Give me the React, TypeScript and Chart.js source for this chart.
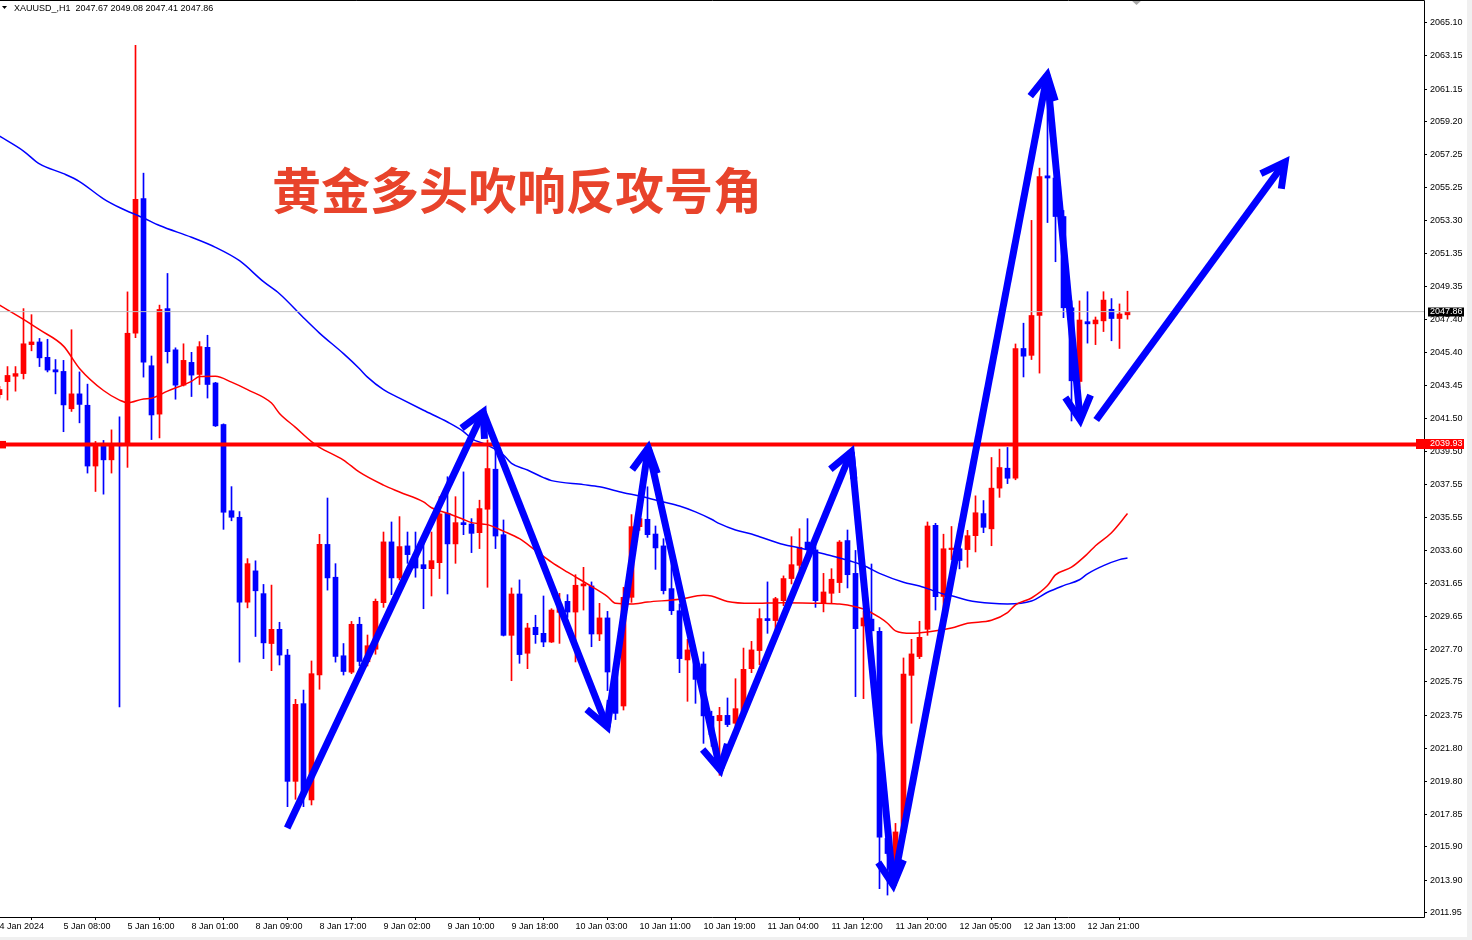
import React, { useEffect, useRef } from "react";
import { Chart, registerables } from "chart.js";

Chart.register(...registerables);

// ---------- header / annotation text ----------
const headerText = "XAUUSD_,H1  2047.67 2049.08 2047.41 2047.86";
const titleText = "黄金多头吹响反攻号角";

// ---------- H1 candles (bar index 0..141) ----------
const opens = [
  2042.90, 2043.68, 2044.00, 2044.16, 2045.89, 2046.05, 2045.13, 2044.39, 2044.29, 2042.06,
  2042.95, 2042.27, 2038.64, 2039.93, 2039.01, 2040.00, 2039.93, 2046.57, 2054.61, 2044.63,
  2041.74, 2048.04, 2045.58, 2043.47, 2044.83, 2044.11, 2045.73, 2043.60, 2041.12, 2035.97,
  2035.58, 2030.51, 2032.38, 2031.02, 2028.04, 2028.89, 2027.35, 2019.81, 2024.45, 2018.70,
  2026.16, 2033.96, 2032.00, 2027.31, 2026.33, 2029.19, 2026.95, 2027.70, 2030.48, 2034.11,
  2031.96, 2033.87, 2033.23, 2032.75, 2032.51, 2032.87, 2035.82, 2033.99, 2035.26, 2035.18,
  2034.66, 2036.06, 2038.45, 2034.54, 2028.53, 2031.00, 2027.46, 2029.01, 2028.65, 2028.13,
  2029.90, 2030.56, 2029.92, 2031.48, 2031.48, 2028.61, 2029.57, 2026.34, 2024.31, 2030.80,
  2035.02, 2035.46, 2034.58, 2033.87, 2031.32, 2030.00, 2027.06, 2027.00, 2026.82, 2023.70,
  2023.43, 2023.75, 2023.28, 2023.95, 2026.54, 2027.62, 2029.53, 2029.41, 2030.60, 2031.92,
  2032.71, 2034.10, 2033.63, 2030.44, 2031.04, 2031.68, 2034.19, 2032.23, 2029.09, 2029.50,
  2028.77, 2016.40, 2014.91, 2016.75, 2026.14, 2027.26, 2028.89, 2035.10, 2030.85, 2033.65,
  2033.70, 2033.65, 2034.48, 2035.80, 2034.89, 2037.32, 2038.51, 2037.91, 2045.66, 2045.25,
  2047.63, 2055.97, 2055.84, 2053.54, 2048.09, 2043.69, 2047.26, 2047.13, 2047.31, 2048.00,
  2047.45, 2047.67,
];
const highs = [
  2043.40, 2044.58, 2044.58, 2048.04, 2047.68, 2046.26, 2046.21, 2045.00, 2044.95, 2046.78,
  2044.26, 2043.53, 2040.11, 2040.17, 2040.80, 2041.58, 2049.04, 2063.77, 2056.13, 2045.21,
  2048.25, 2050.14, 2045.70, 2045.94, 2045.43, 2046.07, 2046.45, 2043.64, 2041.16, 2037.41,
  2035.92, 2033.11, 2032.98, 2031.57, 2031.53, 2029.31, 2027.69, 2024.71, 2025.26, 2027.00,
  2034.56, 2036.73, 2032.81, 2028.04, 2029.36, 2029.61, 2028.55, 2030.70, 2034.70, 2035.30,
  2035.62, 2034.70, 2034.70, 2034.23, 2034.70, 2036.81, 2038.00, 2036.81, 2038.29, 2035.50,
  2036.60, 2040.20, 2039.60, 2035.42, 2031.36, 2031.84, 2029.25, 2029.73, 2030.88, 2030.12,
  2031.04, 2030.96, 2032.15, 2032.59, 2031.72, 2030.44, 2029.96, 2026.50, 2031.40, 2035.74,
  2036.90, 2037.40, 2035.06, 2034.30, 2033.23, 2030.40, 2028.29, 2027.30, 2027.54, 2024.00,
  2024.23, 2024.79, 2025.94, 2027.77, 2028.17, 2030.12, 2031.72, 2030.80, 2032.08, 2034.42,
  2034.90, 2035.50, 2034.00, 2032.23, 2032.51, 2034.19, 2034.82, 2033.60, 2030.00, 2032.79,
  2029.00, 2016.80, 2017.30, 2027.18, 2028.29, 2029.37, 2035.30, 2035.22, 2034.57, 2035.03,
  2035.20, 2034.80, 2036.86, 2036.58, 2039.15, 2039.65, 2039.75, 2045.93, 2047.17, 2053.31,
  2056.43, 2061.50, 2056.11, 2053.90, 2048.50, 2048.50, 2049.05, 2047.54, 2049.05, 2048.64,
  2048.32, 2049.08,
];
const lows = [
  2042.70, 2042.58, 2043.11, 2043.84, 2045.52, 2044.58, 2044.26, 2042.95, 2040.69, 2041.90,
  2041.22, 2038.22, 2037.12, 2036.96, 2038.22, 2024.25, 2038.56, 2046.30, 2043.95, 2040.22,
  2040.32, 2044.79, 2042.63, 2043.42, 2042.79, 2043.51, 2042.70, 2041.00, 2034.86, 2035.37,
  2026.93, 2030.17, 2028.46, 2027.14, 2026.42, 2026.76, 2018.30, 2018.74, 2018.30, 2018.40,
  2025.31, 2031.23, 2026.93, 2026.16, 2026.24, 2026.71, 2026.70, 2027.40, 2030.20, 2030.96,
  2031.84, 2032.83, 2032.00, 2030.12, 2030.88, 2031.92, 2031.00, 2032.83, 2034.54, 2033.47,
  2033.71, 2031.40, 2033.71, 2028.49, 2025.82, 2026.86, 2026.54, 2028.05, 2027.85, 2028.10,
  2028.05, 2029.60, 2026.94, 2030.04, 2027.85, 2028.21, 2025.23, 2023.50, 2024.07, 2030.50,
  2034.80, 2034.38, 2032.47, 2031.00, 2029.77, 2026.30, 2024.59, 2024.47, 2022.08, 2021.90,
  2020.17, 2023.08, 2022.90, 2023.70, 2026.30, 2026.78, 2028.65, 2028.65, 2030.30, 2031.60,
  2032.40, 2033.20, 2030.20, 2029.93, 2030.44, 2031.08, 2031.36, 2024.87, 2024.75, 2027.50,
  2013.40, 2013.02, 2014.80, 2016.70, 2023.28, 2027.14, 2028.53, 2030.04, 2029.85, 2033.05,
  2032.50, 2032.60, 2033.51, 2034.66, 2033.88, 2036.77, 2037.59, 2037.82, 2043.96, 2045.00,
  2044.19, 2053.18, 2050.84, 2047.50, 2041.33, 2043.30, 2045.98, 2045.89, 2046.67, 2046.12,
  2045.66, 2047.41,
];
const closes = [
  2043.21, 2044.05, 2044.16, 2045.94, 2046.05, 2045.10, 2044.37, 2044.26, 2042.29, 2042.95,
  2042.32, 2038.64, 2039.93, 2039.01, 2039.93, 2039.85, 2046.57, 2054.56, 2044.84, 2041.69,
  2047.99, 2045.47, 2043.47, 2044.95, 2044.07, 2045.77, 2043.51, 2041.04, 2035.88, 2035.58,
  2030.51, 2032.81, 2031.19, 2028.08, 2028.89, 2027.35, 2019.81, 2024.41, 2019.20, 2026.24,
  2033.96, 2031.96, 2027.27, 2026.37, 2029.19, 2026.97, 2027.91, 2030.56, 2034.11, 2031.96,
  2033.83, 2033.35, 2032.55, 2032.51, 2032.99, 2035.78, 2033.99, 2035.26, 2035.14, 2034.62,
  2036.10, 2038.49, 2034.46, 2028.53, 2031.00, 2027.38, 2028.97, 2028.57, 2028.13, 2030.04,
  2030.40, 2029.92, 2031.52, 2031.60, 2028.61, 2029.57, 2026.34, 2023.87, 2030.80, 2035.02,
  2035.50, 2034.54, 2033.75, 2031.20, 2030.00, 2027.14, 2027.66, 2025.90, 2023.72, 2022.60,
  2023.75, 2023.20, 2024.15, 2026.50, 2027.66, 2029.53, 2029.41, 2030.72, 2031.92, 2032.75,
  2033.79, 2033.70, 2030.60, 2031.12, 2031.88, 2034.10, 2032.15, 2028.93, 2029.57, 2028.80,
  2016.47, 2015.50, 2016.79, 2026.22, 2027.42, 2028.41, 2035.06, 2030.84, 2033.70, 2033.74,
  2033.00, 2034.48, 2035.85, 2034.98, 2037.32, 2038.55, 2037.91, 2045.66, 2045.20, 2047.63,
  2055.93, 2055.84, 2053.54, 2048.09, 2043.73, 2047.36, 2047.13, 2047.36, 2048.55, 2047.45,
  2047.72, 2047.86,
];

const fastMaIdx = [
  0, 3, 5, 8, 10, 13, 15, 16, 18, 19, 21, 24, 25, 27, 29, 31, 34, 35, 37, 39,
  40, 43, 45, 48, 50, 53, 54, 56, 58, 59, 61, 63, 65, 67, 69, 71, 74, 76, 77, 79,
  81, 85, 88, 89, 91, 94, 98, 103, 105, 107, 108, 110, 111, 112, 114, 116, 119, 121, 124, 126,
  127, 129, 131, 132, 134, 136, 137, 139, 141,
];
const fastMaVal = [
  2048.25, 2047.40, 2046.78, 2045.80, 2044.47, 2043.15, 2042.58, 2042.42, 2042.65, 2042.69,
  2043.11, 2043.70, 2043.98, 2044.00, 2043.65, 2043.20, 2042.40, 2041.78, 2040.95, 2040.10,
  2039.76, 2039.00, 2038.27, 2037.50, 2037.09, 2036.50, 2036.15, 2035.82, 2035.45, 2035.26,
  2035.14, 2034.75, 2034.30, 2033.60, 2032.90, 2032.30, 2031.45, 2030.84, 2030.44, 2030.40,
  2030.52, 2030.68, 2030.92, 2030.88, 2030.55, 2030.44, 2030.48, 2030.44, 2030.40, 2030.24,
  2030.10, 2029.60, 2029.25, 2028.80, 2028.65, 2028.73, 2028.97, 2029.25, 2029.43, 2029.89,
  2030.35, 2030.76, 2031.50, 2032.14, 2032.60, 2033.40, 2033.88, 2034.66, 2035.80,
];
const slowMaIdx = [
  0, 3, 5, 8, 10, 13, 15, 18, 20, 24, 27, 30, 33, 35, 38, 40, 43, 45, 46, 48,
  50, 53, 56, 58, 59, 61, 63, 64, 66, 68, 69, 73, 75, 78, 80, 83, 85, 87, 89, 90,
  92, 94, 95, 98, 100, 103, 105, 108, 110, 113, 115, 118, 119, 121, 124, 126, 129, 131, 133, 135,
  136, 138, 140, 141,
];
const slowMaVal = [
  2058.34, 2057.45, 2056.68, 2056.10, 2055.63, 2054.60, 2054.08, 2053.45, 2053.00, 2052.30,
  2051.70, 2050.90, 2049.65, 2048.93, 2047.50, 2046.58, 2045.35, 2044.45, 2043.95, 2043.20,
  2042.70, 2041.97, 2041.27, 2040.70, 2040.28, 2039.88, 2039.30, 2038.80, 2038.40, 2037.95,
  2037.77, 2037.53, 2037.40, 2037.05, 2036.85, 2036.49, 2036.25, 2035.90, 2035.46, 2035.20,
  2034.82, 2034.58, 2034.42, 2033.95, 2033.75, 2033.40, 2033.15, 2032.70, 2032.23, 2031.70,
  2031.48, 2031.00, 2030.90, 2030.63, 2030.44, 2030.40, 2030.58, 2031.10, 2031.50, 2031.85,
  2032.20, 2032.69, 2033.05, 2033.15,
];

// ---------- horizontal levels ----------
const supportLevel = 2039.93;
const bidLevel = 2047.86;

// ---------- hand-drawn arrows (bar index, price) ----------
const arrowFromIdx = [35.96, 60.46, 75.96, 81.09, 90.09, 106.46, 111.71, 130.96, 137.09];
const arrowFromPrice = [2017.03, 2041.87, 2023.06, 2039.72, 2020.49, 2039.48, 2013.62, 2061.99, 2041.39];
const arrowToIdx = [60.46, 75.96, 81.09, 90.09, 106.46, 111.71, 130.96, 135.09, 160.71];
const arrowToPrice = [2041.87, 2023.06, 2039.72, 2020.49, 2039.48, 2013.62, 2061.99, 2041.39, 2056.80];

// ---------- axes ----------
const xTickIdx = [0, 8, 16, 24, 32, 40, 48, 56, 64, 72, 80, 88, 96, 104, 112, 120, 128, 136];
const xTickLabels = [
  "4 Jan 2024", "5 Jan 08:00", "5 Jan 16:00", "8 Jan 01:00", "8 Jan 09:00", "8 Jan 17:00",
  "9 Jan 02:00", "9 Jan 10:00", "9 Jan 18:00", "10 Jan 03:00", "10 Jan 11:00", "10 Jan 19:00",
  "11 Jan 04:00", "11 Jan 12:00", "11 Jan 20:00", "12 Jan 05:00", "12 Jan 13:00", "12 Jan 21:00",
];
const yTickValues = [
  2065.10, 2063.15, 2061.15, 2059.20, 2057.25, 2055.25, 2053.30, 2051.35, 2049.35, 2047.40,
  2045.40, 2043.45, 2041.50, 2039.50, 2037.55, 2035.55, 2033.60, 2031.65, 2029.65, 2027.70,
  2025.75, 2023.75, 2021.80, 2019.80, 2017.85, 2015.90, 2013.90, 2011.95,
];

const X_MIN = 0.0625;
const X_MAX = 178.0625;
const Y_MIN = 2011.71;
const Y_MAX = 2066.47;

const UP = "#ff0000";
const DOWN = "#0000ff";
const ARROW = "#0000ff";
const AXIS_FONT = { family: "'Liberation Sans', Arial, sans-serif", size: 9 };

const decorPlugin = {
  id: "mtDecor",
  beforeDraw(chart: any) {
    const { ctx, width, height } = chart;
    ctx.save();
    ctx.fillStyle = "#ffffff";
    ctx.fillRect(0, 0, width, height);
    ctx.fillStyle = "#f0f0f0";
    ctx.fillRect(width - 5, 0, 5, height);
    ctx.fillRect(0, height - 3, width, 3);
    ctx.restore();
  },
  afterDatasetsDraw(chart: any) {
    const { ctx, chartArea } = chart;
    const xs = chart.scales.x;
    const ys = chart.scales.y;
    ctx.save();
    // arrow heads
    ctx.strokeStyle = ARROW;
    ctx.lineWidth = 7;
    ctx.lineJoin = "miter";
    ctx.lineCap = "butt";
    for (let k = 0; k < arrowToIdx.length; k++) {
      const x0 = xs.getPixelForValue(arrowFromIdx[k]);
      const y0 = ys.getPixelForValue(arrowFromPrice[k]);
      const x1 = xs.getPixelForValue(arrowToIdx[k]);
      const y1 = ys.getPixelForValue(arrowToPrice[k]);
      const len = Math.hypot(x1 - x0, y1 - y0);
      const ux = (x0 - x1) / len;
      const uy = (y0 - y1) / len;
      const a = (28 * Math.PI) / 180;
      const L = 27;
      const r1x = ux * Math.cos(a) - uy * Math.sin(a);
      const r1y = ux * Math.sin(a) + uy * Math.cos(a);
      const r2x = ux * Math.cos(-a) - uy * Math.sin(-a);
      const r2y = ux * Math.sin(-a) + uy * Math.cos(-a);
      ctx.beginPath();
      ctx.moveTo(x1 + r1x * L, y1 + r1y * L);
      ctx.lineTo(x1, y1);
      ctx.lineTo(x1 + r2x * L, y1 + r2y * L);
      ctx.stroke();
    }
    // left anchor square of the support line
    const sy = ys.getPixelForValue(supportLevel);
    ctx.fillStyle = "#ff0000";
    ctx.fillRect(0, sy - 3.5, 6, 7.5);
    // title
    ctx.fillStyle = "#e8432b";
    ctx.font = "bold 49px 'Noto Sans CJK SC', sans-serif";
    ctx.textBaseline = "middle";
    ctx.textAlign = "left";
    ctx.fillText(titleText, 272, 190);
    // header
    ctx.fillStyle = "#000000";
    ctx.beginPath();
    ctx.moveTo(2, 6);
    ctx.lineTo(7, 6);
    ctx.lineTo(4.5, 9);
    ctx.closePath();
    ctx.fill();
    ctx.font = "9px 'Liberation Sans', Arial, sans-serif";
    ctx.textBaseline = "middle";
    ctx.fillText(headerText, 14, 8.5);
    // chart shift marker
    ctx.fillStyle = "#a8a8a8";
    ctx.beginPath();
    ctx.moveTo(1131, 0);
    ctx.lineTo(1142, 0);
    ctx.lineTo(1136.5, 5);
    ctx.closePath();
    ctx.fill();
    // frame
    ctx.strokeStyle = "#000000";
    ctx.lineWidth = 1;
    ctx.beginPath();
    ctx.moveTo(0, 0.5);
    ctx.lineTo(chartArea.right + 0.5, 0.5);
    ctx.lineTo(chartArea.right + 0.5, chartArea.bottom + 0.5);
    ctx.lineTo(0, chartArea.bottom + 0.5);
    ctx.stroke();
    ctx.restore();
  },
  afterDraw(chart: any) {
    const { ctx } = chart;
    const ys = chart.scales.y;
    ctx.save();
    ctx.font = "9px 'Liberation Sans', Arial, sans-serif";
    ctx.textBaseline = "middle";
    ctx.textAlign = "left";
    const by = Math.round(ys.getPixelForValue(bidLevel));
    ctx.fillStyle = "#000000";
    ctx.fillRect(1428, by - 4.5, 36, 9);
    ctx.fillStyle = "#ffffff";
    ctx.fillText(bidLevel.toFixed(2), 1430, by);
    const sy = Math.round(ys.getPixelForValue(supportLevel));
    ctx.fillStyle = "#ff0000";
    ctx.fillRect(1416, sy - 5, 48, 10);
    ctx.fillStyle = "#ffffff";
    ctx.fillText(supportLevel.toFixed(2), 1430, sy);
    ctx.restore();
  },
};

export default function App() {
  const ref = useRef<HTMLCanvasElement | null>(null);

  useEffect(() => {
    document.body.style.margin = "0";
    const canvas = ref.current;
    if (!canvas) return;

    const idx = opens.map((_, i) => i);
    const colors = idx.map((i) => (closes[i] >= opens[i] ? UP : DOWN));
    const bodies = idx.map((i) => ({ x: i, y: [opens[i], closes[i]] }));
    const wicks = idx.map((i) => ({ x: i, y: [lows[i], highs[i]] }));
    const fastMa = fastMaIdx.map((x, k) => ({ x, y: fastMaVal[k] }));
    const slowMa = slowMaIdx.map((x, k) => ({ x, y: slowMaVal[k] }));

    const arrowSets = arrowToIdx.map((_, k) => ({
      type: "line" as const,
      data: [
        { x: arrowFromIdx[k], y: arrowFromPrice[k] },
        { x: arrowToIdx[k], y: arrowToPrice[k] },
      ],
      borderColor: ARROW,
      borderWidth: 7,
      borderCapStyle: "butt" as const,
      pointRadius: 0,
      order: 1,
    }));

    const chart = new Chart(canvas, {
      type: "bar",
      data: {
        datasets: [
          {
            type: "bar",
            data: wicks as any,
            backgroundColor: colors,
            barThickness: 1,
            minBarLength: 1,
            grouped: false,
            order: 10,
          },
          {
            type: "bar",
            data: bodies as any,
            backgroundColor: colors,
            barThickness: 5,
            minBarLength: 1,
            grouped: false,
            order: 9,
          },
          {
            type: "line",
            data: slowMa as any,
            borderColor: "#0000ff",
            borderWidth: 1.5,
            pointRadius: 0,
            cubicInterpolationMode: "monotone",
            order: 8,
          },
          {
            type: "line",
            data: fastMa as any,
            borderColor: "#ff0000",
            borderWidth: 1.5,
            pointRadius: 0,
            cubicInterpolationMode: "monotone",
            order: 7,
          },
          {
            type: "line",
            data: [
              { x: X_MIN, y: bidLevel },
              { x: X_MAX, y: bidLevel },
            ] as any,
            borderColor: "#c0c0c0",
            borderWidth: 1,
            pointRadius: 0,
            order: 6,
          },
          {
            type: "line",
            data: [
              { x: X_MIN, y: supportLevel },
              { x: X_MAX, y: supportLevel },
            ] as any,
            borderColor: "#ff0000",
            borderWidth: 4,
            pointRadius: 0,
            order: 5,
          },
          ...(arrowSets as any[]),
        ],
      },
      options: {
        responsive: false,
        maintainAspectRatio: false,
        devicePixelRatio: 1,
        animation: false,
        events: [],
        layout: { padding: 0 },
        plugins: {
          legend: { display: false },
          tooltip: { enabled: false },
          title: { display: false },
        },
        scales: {
          x: {
            type: "linear",
            position: "bottom",
            min: X_MIN,
            max: X_MAX,
            offset: false,
            grid: {
              display: true,
              drawOnChartArea: false,
              drawTicks: true,
              tickLength: 3,
              color: "#000000",
            },
            border: { display: false },
            ticks: {
              autoSkip: false,
              maxRotation: 0,
              minRotation: 0,
              align: "start",
              padding: 1,
              color: "#000000",
              font: AXIS_FONT,
              callback: (_v: any, i: number) => xTickLabels[i],
            },
            afterBuildTicks: (s: any) => {
              s.ticks = xTickIdx.map((v) => ({ value: v }));
            },
            afterFit: (s: any) => {
              s.height = 23;
              s.paddingLeft = 0;
              s.paddingRight = 0;
            },
          },
          y: {
            type: "linear",
            position: "right",
            min: Y_MIN,
            max: Y_MAX,
            grid: {
              display: true,
              drawOnChartArea: false,
              drawTicks: true,
              tickLength: 3,
              color: "#000000",
            },
            border: { display: false },
            ticks: {
              autoSkip: false,
              padding: 3,
              color: "#000000",
              font: AXIS_FONT,
              callback: (v: any) => Number(v).toFixed(2),
            },
            afterBuildTicks: (s: any) => {
              s.ticks = yTickValues.map((v) => ({ value: v }));
            },
            afterFit: (s: any) => {
              s.width = 48;
              s.paddingTop = 0;
              s.paddingBottom = 0;
            },
          },
        },
      } as any,
      plugins: [decorPlugin],
    });

    return () => chart.destroy();
  }, []);

  return (
    <div style={{ width: 1472, height: 940, position: "relative", background: "#ffffff" }}>
      <style>{"body{margin:0}"}</style>
      <canvas ref={ref} width={1472} height={940} style={{ display: "block", width: 1472, height: 940 }} />
    </div>
  );
}
